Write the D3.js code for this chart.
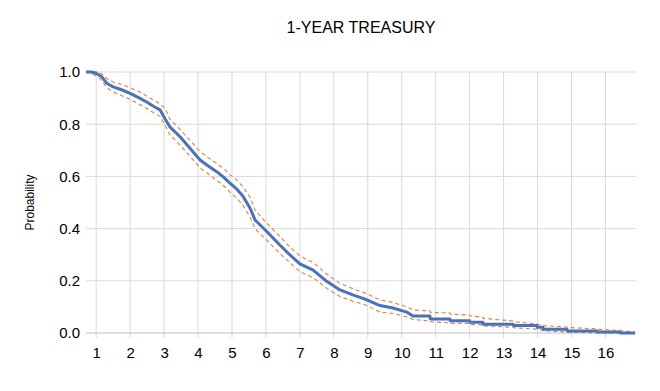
<!DOCTYPE html>
<html>
<head>
<meta charset="utf-8">
<script src="https://cdn.jsdelivr.net/npm/d3@7"></script>
<style>
  body { margin: 0; background: #fff; }
  text { font-family: "Liberation Sans", Arial, sans-serif; fill: #000; }
</style>
</head>
<body>
<div id="chart"></div>
<script>
// Years held (x) and survival probability with confidence bounds
var years = [0.70, 0.85, 1.00, 1.16, 1.31, 1.50, 1.75, 2.00, 2.25, 2.49, 2.70, 2.88, 3.03, 3.17, 3.47, 3.75,
  4.06, 4.30, 4.55, 4.75, 4.94, 5.15, 5.32, 5.53, 5.68, 6.03, 6.41, 6.70, 7.00, 7.39, 7.80, 8.18, 8.56, 8.92,
  9.36, 9.74, 10.15, 10.33, 10.83, 10.84, 11.42, 11.43, 12.00, 12.01, 12.39, 12.40, 13.28, 13.29, 13.98, 13.99,
  14.16, 14.17, 14.87, 14.88, 15.75, 15.76, 16.43, 16.44, 16.87];
var survival = [1.000, 1.000, 0.995, 0.982, 0.957, 0.943, 0.932, 0.918, 0.902, 0.885, 0.868, 0.855, 0.820, 0.790, 0.752, 0.710,
  0.663, 0.640, 0.618, 0.597, 0.574, 0.550, 0.525, 0.479, 0.433, 0.388, 0.337, 0.300, 0.265, 0.241, 0.197, 0.165, 0.146, 0.130,
  0.105, 0.096, 0.080, 0.065, 0.065, 0.054, 0.054, 0.047, 0.047, 0.041, 0.041, 0.034, 0.034, 0.029, 0.029, 0.022,
  0.022, 0.014, 0.014, 0.008, 0.008, 0.004, 0.004, 0.000, 0.000];
var upper = [1.000, 1.000, 1.000, 0.993, 0.975, 0.962, 0.952, 0.940, 0.925, 0.908, 0.892, 0.878, 0.860, 0.820, 0.780, 0.740,
  0.695, 0.672, 0.650, 0.630, 0.607, 0.585, 0.560, 0.520, 0.470, 0.420, 0.370, 0.330, 0.295, 0.270, 0.225, 0.190, 0.170, 0.153,
  0.127, 0.117, 0.100, 0.088, 0.085, 0.079, 0.077, 0.072, 0.069, 0.066, 0.060, 0.056, 0.046, 0.043, 0.035, 0.033,
  0.030, 0.028, 0.023, 0.021, 0.016, 0.014, 0.010, 0.009, 0.004];
var lower = [1.000, 0.995, 0.985, 0.968, 0.940, 0.923, 0.910, 0.895, 0.878, 0.860, 0.843, 0.830, 0.795, 0.760, 0.720, 0.680,
  0.632, 0.610, 0.585, 0.565, 0.540, 0.515, 0.490, 0.445, 0.400, 0.355, 0.305, 0.270, 0.235, 0.212, 0.170, 0.140, 0.122, 0.108,
  0.080, 0.075, 0.062, 0.052, 0.046, 0.043, 0.039, 0.037, 0.037, 0.033, 0.031, 0.027, 0.022, 0.020, 0.015, 0.014,
  0.010, 0.008, 0.004, 0.003, 0.000, 0.000, 0.000, 0.000, 0.000];
var xTicks = [1, 2, 3, 4, 5, 6, 7, 8, 9, 10, 11, 12, 13, 14, 15, 16];
var yTicks = [0, 0.2, 0.4, 0.6, 0.8, 1.0];

var W = 660, H = 391;
var svg = d3.select("#chart").append("svg")
  .attr("width", W)
  .attr("height", H);

var x = d3.scaleLinear().domain([0.7, 16.9]).range([86, 636]);
var y = d3.scaleLinear().domain([0, 1]).range([333, 72]);

// gridlines
svg.append("g")
  .selectAll("line")
  .data(xTicks)
  .enter().append("line")
  .attr("x1", d => x(d)).attr("x2", d => x(d))
  .attr("y1", y(1)).attr("y2", y(0) + 5)
  .attr("stroke", "#d9d9d9").attr("stroke-width", 1);

svg.append("g")
  .selectAll("line")
  .data(yTicks.filter(d => d > 0))
  .enter().append("line")
  .attr("x1", x.range()[0]).attr("x2", x.range()[1])
  .attr("y1", d => y(d)).attr("y2", d => y(d))
  .attr("stroke", "#d9d9d9").attr("stroke-width", 1);

// X axis
var xAxis = svg.append("g")
  .attr("transform", "translate(0," + y(0) + ")")
  .call(d3.axisBottom(x).tickValues(xTicks).tickSize(0).tickPadding(14).tickFormat(d3.format("d")));
xAxis.select(".domain").attr("stroke", "#bfbfbf").attr("d", "M" + x.range()[0] + ",0H" + x.range()[1]);
xAxis.selectAll("text").style("font-size", "15px");

// Y axis
var yAxis = svg.append("g")
  .attr("transform", "translate(" + x.range()[0] + ",0)")
  .call(d3.axisLeft(y).tickValues(yTicks).tickSize(0).tickPadding(6).tickFormat(d3.format(".1f")));
yAxis.select(".domain").remove();
yAxis.selectAll("text").style("font-size", "15px");

var idx = d3.range(years.length);

// confidence bands
[upper, lower].forEach(function(band) {
  svg.append("path")
    .datum(idx)
    .attr("fill", "none")
    .attr("stroke", "#ed7d31")
    .attr("stroke-width", 1.1)
    .attr("stroke-dasharray", "4,3")
    .attr("d", d3.line().x(i => x(years[i])).y(i => y(band[i])));
});

// survival curve
svg.append("path")
  .datum(idx)
  .attr("fill", "none")
  .attr("stroke", "#4472c4")
  .attr("stroke-width", 3)
  .attr("stroke-linejoin", "round")
  .attr("d", d3.line().x(i => x(years[i])).y(i => y(survival[i])));

// title
svg.append("text")
  .attr("x", (x.range()[0] + x.range()[1]) / 2)
  .attr("y", 33)
  .attr("text-anchor", "middle")
  .style("font-size", "16px")
  .text("1-YEAR TREASURY");

// Y axis label
svg.append("text")
  .attr("transform", "translate(34," + ((y(0) + y(1)) / 2) + ") rotate(-90)")
  .attr("text-anchor", "middle")
  .style("font-size", "12px")
  .text("Probability");
</script>
</body>
</html>
